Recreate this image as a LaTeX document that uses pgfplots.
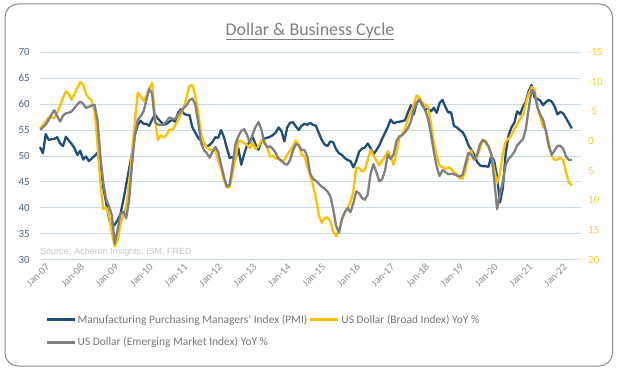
\documentclass[border=0pt]{standalone}
\usepackage{fontspec}
\setmainfont{Carlito}
\newfontfamily\srcfont{Liberation Sans}
\usepackage{pgfplots}
\pgfplotsset{compat=1.18}
\usepackage{pgfplotstable}
\definecolor{pmicol}{HTML}{1F4E79}
\definecolor{broadcol}{HTML}{FFC000}
\definecolor{emcol}{HTML}{808080}
\definecolor{gridcol}{HTML}{C9DBEE}
\definecolor{lefttick}{HTML}{4A6587}
\definecolor{righttick}{HTML}{FFC933}
\definecolor{xtickcol}{HTML}{8C8C8C}
\definecolor{legtext}{HTML}{767676}
\definecolor{titlecol}{HTML}{7F7F7F}
\definecolor{framecol}{HTML}{8C8C8C}
\definecolor{srccol}{HTML}{C4C4C4}

\pgfplotstableread{
k v
0 51.7
1 50.5
2 54.2
3 53.1
4 53.2
5 53.3
6 53.6
7 52.4
8 51.9
9 53.7
10 53.0
11 52.3
12 51.5
13 50.2
14 51.0
15 49.3
16 49.9
17 49.0
18 49.5
19 50.0
20 50.6
21 48.5
22 44.0
23 41.0
24 38.0
25 36.3
26 36.7
27 37.6
28 38.8
29 41.5
30 44.5
31 47.5
32 50.5
33 54.0
34 56.0
35 56.8
36 56.2
37 56.2
38 55.8
39 57.0
40 58.0
41 57.2
42 56.6
43 56.0
44 56.2
45 56.6
46 57.0
47 56.6
48 58.3
49 59.0
50 58.2
51 57.9
52 57.9
53 55.5
54 54.5
55 53.5
56 52.9
57 52.4
58 51.8
59 52.1
60 52.7
61 53.6
62 53.5
63 55.0
64 53.6
65 51.5
66 49.6
67 49.8
68 49.5
69 51.5
70 48.3
71 50.3
72 52.0
73 52.8
74 53.6
75 52.2
76 51.2
77 52.8
78 53.3
79 53.5
80 53.7
81 54.0
82 54.5
83 55.5
84 54.8
85 52.8
86 55.5
87 56.4
88 56.5
89 55.7
90 55.0
91 55.8
92 56.2
93 56.0
94 56.4
95 56.0
96 55.8
97 54.4
98 53.1
99 52.2
100 51.9
101 52.8
102 52.6
103 51.3
104 50.5
105 50.2
106 49.6
107 49.2
108 49.0
109 47.8
110 49.0
111 50.8
112 51.4
113 51.6
114 52.4
115 51.5
116 50.3
117 51.1
118 52.0
119 53.3
120 54.4
121 55.6
122 57.0
123 56.3
124 56.5
125 56.6
126 56.7
127 56.9
128 58.4
129 59.8
130 58.0
131 60.1
132 61.0
133 59.8
134 58.9
135 59.2
136 58.6
137 59.3
138 58.3
139 60.2
140 60.8
141 59.5
142 58.4
143 58.4
144 55.8
145 55.5
146 55.0
147 54.6
148 53.6
149 52.1
150 51.2
151 50.3
152 48.9
153 48.2
154 48.0
155 48.0
156 47.9
157 50.0
158 49.0
159 46.0
160 41.0
161 43.8
162 50.5
163 54.0
164 55.5
165 56.4
166 58.6
167 58.0
168 59.5
169 60.5
170 62.5
171 63.7
172 61.3
173 61.0
174 60.7
175 59.8
176 60.4
177 60.8
178 60.5
179 59.6
180 58.0
181 58.5
182 58.2
183 57.3
184 56.3
185 55.3
}\pmidata

\pgfplotstableread{
k v
0 -2.2
1 -2.7
2 -3.3
3 -4.0
4 -4.0
5 -3.9
6 -4.8
7 -6.0
8 -7.3
9 -8.4
10 -8.0
11 -7.0
12 -8.0
13 -9.0
14 -10.0
15 -9.6
16 -8.0
17 -7.3
18 -6.8
19 -5.0
20 0.5
21 7.0
22 11.5
23 11.2
24 12.5
25 15.5
26 17.8
27 16.7
28 14.0
29 12.5
30 11.0
31 7.0
32 2.0
33 -3.5
34 -8.2
35 -7.5
36 -6.8
37 -7.6
38 -9.0
39 -9.8
40 -4.0
41 -0.2
42 -1.0
43 -0.6
44 -1.0
45 -1.9
46 -1.9
47 -2.6
48 -3.5
49 -4.6
50 -5.6
51 -7.5
52 -9.3
53 -9.5
54 -7.7
55 -5.0
56 -1.3
57 0.3
58 1.1
59 1.4
60 1.5
61 1.6
62 3.2
63 4.7
64 6.6
65 7.8
66 7.8
67 5.4
68 3.1
69 0.0
70 0.0
71 0.3
72 0.6
73 1.2
74 0.3
75 1.3
76 0.9
77 -0.1
78 0.2
79 1.0
80 2.6
81 2.4
82 3.0
83 2.8
84 3.5
85 3.2
86 2.3
87 1.6
88 0.9
89 -0.1
90 0.6
91 2.3
92 2.6
93 4.3
94 5.8
95 7.5
96 9.6
97 12.5
98 13.8
99 13.0
100 12.9
101 13.5
102 15.3
103 16.1
104 15.0
105 13.3
106 12.2
107 11.3
108 10.3
109 8.5
110 4.5
111 4.5
112 5.1
113 4.9
114 3.2
115 1.5
116 2.4
117 3.3
118 4.1
119 3.3
120 2.6
121 1.7
122 2.7
123 4.0
124 2.0
125 -0.5
126 -1.2
127 -2.1
128 -3.7
129 -4.8
130 -6.2
131 -7.7
132 -7.3
133 -6.5
134 -6.1
135 -5.8
136 -3.0
137 0.3
138 2.4
139 4.1
140 4.4
141 4.7
142 4.4
143 4.7
144 5.2
145 5.6
146 6.3
147 6.3
148 5.0
149 2.6
150 1.6
151 3.1
152 2.7
153 1.4
154 -0.1
155 -0.1
156 0.8
157 2.2
158 4.8
159 7.1
160 5.5
161 2.0
162 0.1
163 -0.4
164 -1.0
165 -2.0
166 -2.8
167 -3.8
168 -4.4
169 -6.4
170 -8.0
171 -9.1
172 -8.8
173 -5.8
174 -4.1
175 -2.4
176 -1.9
177 0.3
178 2.5
179 3.2
180 3.1
181 2.8
182 3.2
183 5.2
184 7.0
185 7.5
}\broaddata

\pgfplotstableread{
k v
0 -1.9
1 -2.3
2 -2.8
3 -3.6
4 -4.5
5 -5.2
6 -4.2
7 -3.3
8 -4.3
9 -4.7
10 -4.8
11 -5.0
12 -5.6
13 -6.2
14 -6.7
15 -6.3
16 -5.6
17 -5.8
18 -6.0
19 -6.1
20 -3.5
21 2.5
22 7.0
23 9.8
24 11.0
25 12.5
26 17.3
27 15.0
28 12.3
29 11.9
30 13.0
31 10.0
32 4.0
33 -1.0
34 -3.6
35 -4.2
36 -5.0
37 -6.9
38 -8.8
39 -8.0
40 -3.2
41 -2.8
42 -2.7
43 -2.8
44 -3.3
45 -4.0
46 -3.8
47 -3.7
48 -4.4
49 -5.1
50 -5.6
51 -6.1
52 -6.9
53 -7.2
54 -6.2
55 -3.3
56 0.3
57 1.5
58 2.0
59 2.8
60 1.8
61 1.0
62 1.8
63 4.0
64 6.0
65 7.7
66 7.3
67 4.0
68 0.5
69 -0.8
70 -1.7
71 -2.0
72 -1.1
73 0.3
74 -1.2
75 -2.4
76 -3.2
77 -2.0
78 0.2
79 1.0
80 0.9
81 1.3
82 2.0
83 3.0
84 3.3
85 3.8
86 4.0
87 3.2
88 1.6
89 0.5
90 0.7
91 1.5
92 1.5
93 2.6
94 5.5
95 6.4
96 6.7
97 7.2
98 7.7
99 8.0
100 8.5
101 9.3
102 11.5
103 14.3
104 15.5
105 13.2
106 12.0
107 11.3
108 12.0
109 10.5
110 8.5
111 8.8
112 9.6
113 9.9
114 9.0
115 5.5
116 3.9
117 5.2
118 6.8
119 6.5
120 5.0
121 2.3
122 3.0
123 2.3
124 0.0
125 -0.8
126 -1.0
127 -1.5
128 -2.2
129 -3.3
130 -5.2
131 -6.4
132 -7.0
133 -6.2
134 -5.2
135 -3.8
136 -1.2
137 1.8
138 4.3
139 5.9
140 4.9
141 5.2
142 5.6
143 5.5
144 5.6
145 5.8
146 6.0
147 5.7
148 3.8
149 2.0
150 2.3
151 3.1
152 2.4
153 0.6
154 -0.2
155 0.2
156 0.9
157 2.3
158 6.5
159 11.5
160 9.0
161 6.8
162 4.0
163 3.0
164 2.5
165 1.8
166 0.7
167 0.2
168 -0.3
169 -2.0
170 -5.5
171 -8.6
172 -8.2
173 -5.8
174 -4.5
175 -3.6
176 -1.6
177 0.9
178 2.3
179 1.6
180 0.8
181 0.8
182 1.3
183 2.6
184 3.2
185 3.2
}\emdata

\begin{document}
\begin{tikzpicture}[x=1bp,y=1bp]
\path[use as bounding box] (0,0) rectangle (618,370);
\draw[framecol, line width=1bp, rounded corners=13bp] (5,4) rectangle (612.5,366);
\node[anchor=base, font=\fontsize{18}{20}\selectfont, text=titlecol, inner sep=0pt] at (310,335) {\underline{Dollar \& Business Cycle}};
\node[anchor=base west, font=\srcfont\fontsize{9}{10}\selectfont, text=srccol, inner sep=0pt] at (40,116) {Source: Acheron Insights, ISM, FRED};

\begin{axis}[at={(40bp,110.5bp)}, anchor=south west, scale only axis,
  width=541bp, height=207.2bp,
  xmin=0, xmax=188.2, ymin=30, ymax=70,
  axis line style={draw=none}, clip=false,
  major tick length=0pt,
  ytick={30,35,...,70},
  ymajorgrids, grid style={gridcol, line width=0.8bp},
  xtick={0,12,...,180},
  xticklabels={Jan-07,Jan-08,Jan-09,Jan-10,Jan-11,Jan-12,Jan-13,Jan-14,Jan-15,Jan-16,Jan-17,Jan-18,Jan-19,Jan-20,Jan-21,Jan-22},
  xticklabel style={rotate=45, anchor=north east, inner sep=0pt, yshift=-6bp, xshift=1.5bp, font=\fontsize{10.5}{11}\selectfont, text=xtickcol},
  yticklabel style={anchor=east, inner sep=0pt, xshift=-10bp, font=\fontsize{11}{12}\selectfont, text=lefttick},
  /pgf/number format/assume math mode=true,
]
\addplot[pmicol, line width=2.3bp, line join=round] table[x=k,y=v]{\pmidata};
\end{axis}

\begin{axis}[at={(40bp,110.5bp)}, anchor=south west, scale only axis,
  width=541bp, height=207.2bp,
  xmin=0, xmax=188.2, ymin=-15, ymax=20, y dir=reverse,
  axis x line=none, axis y line*=right, axis line style={draw=none}, clip=false,
  major tick length=0pt,
  ytick={-15,-10,...,20},
  yticklabel style={anchor=west, inner sep=0pt, xshift=7bp, font=\fontsize{11}{12}\selectfont, text=righttick},
  /pgf/number format/assume math mode=true,
  legend columns=2,
  legend cell align=left,
  legend image code/.code={\draw[#1, line width=3bp] (0bp,0bp) -- (28bp,0bp);},
  legend style={at={(axis description cs:0,0)}, anchor=north west, xshift=5bp, yshift=-54bp,
    draw=none, fill=none, inner sep=0pt, row sep=11bp,
    font=\fontsize{11.5}{13}\selectfont, text=legtext,
    nodes={inner xsep=1.5bp, inner ysep=1bp}},
]
\addlegendimage{pmicol}
\addlegendentry{Manufacturing Purchasing Managers' Index (PMI)}
\addplot[broadcol, line width=2.3bp, line join=round] table[x=k,y=v]{\broaddata};
\addlegendentry{US Dollar (Broad Index) YoY \%}
\addplot[emcol, line width=2.3bp, line join=round] table[x=k,y=v]{\emdata};
\addlegendentry{US Dollar (Emerging Market Index) YoY \%}
\end{axis}
\end{tikzpicture}
\end{document}
